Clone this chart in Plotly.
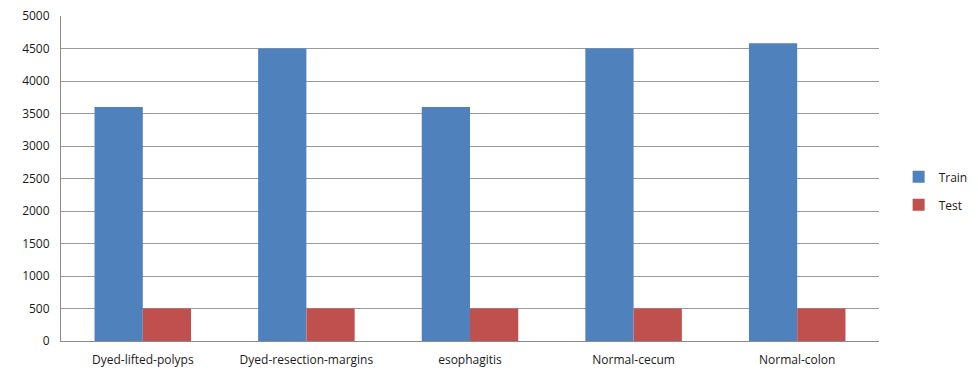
import plotly.graph_objects as go

categories = ["Dyed-lifted-polyps", "Dyed-resection-margins", "esophagitis",
              "Normal-cecum", "Normal-colon"]
train = [3600, 4500, 3600, 4500, 4580]
test = [500, 500, 500, 500, 500]

fig = go.Figure()
fig.add_trace(go.Bar(name="Train", x=categories, y=train, marker_color="#4F81BD",
                     marker_line_width=0, legendgroup="train"))
fig.add_trace(go.Bar(name="Test", x=categories, y=test, marker_color="#C0504D",
                     marker_line_width=0, legendgroup="test"))

fig.update_layout(
    width=978, height=373,
    margin=dict(l=61, r=99, t=16, b=32, autoexpand=False),
    paper_bgcolor="white", plot_bgcolor="white",
    barmode="group", bargap=0.41, bargroupgap=0,
    font=dict(family="Open Sans", size=12, color="#1a1a1a"),
    showlegend=True,
    legend=dict(x=1.024, y=0.462, xanchor="left", yanchor="middle",
                font=dict(size=12), itemwidth=30, tracegroupgap=9,
                traceorder="grouped"),
)
fig.update_xaxes(showline=True, linecolor="#8a8a8a", linewidth=1,
                 ticks="", showgrid=False, tickfont=dict(size=12),
                 ticklabelstandoff=8)
fig.update_yaxes(range=[0, 5000], dtick=500, showgrid=True, gridcolor="#9a9a9a",
                 gridwidth=1, showline=True, linecolor="#8a8a8a", linewidth=1,
                 ticks="", zeroline=False, tickfont=dict(size=12), ticklabelstandoff=8)

fig.write_html("out.html")
